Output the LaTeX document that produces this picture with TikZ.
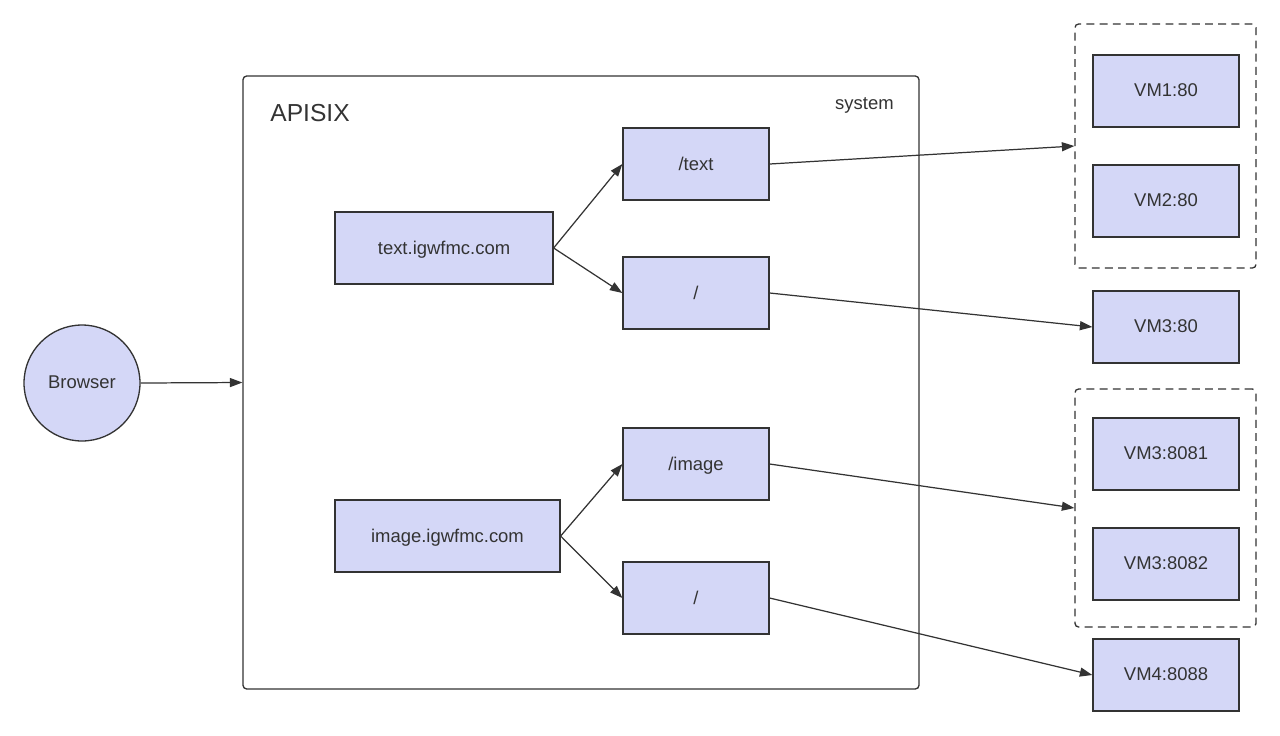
\documentclass[tikz,border=0pt]{standalone}
\usepackage{fontspec}
\setmainfont{Liberation Sans}
\usepackage{tikz}
\usetikzlibrary{arrows.meta, positioning}
\definecolor{boxfill}{RGB}{212,215,247}
\definecolor{inkgray}{RGB}{51,51,51}

\tikzset{
  box/.style={draw=inkgray, fill=boxfill, line width=0.75pt, minimum width=2.92cm,
    minimum height=1.44cm, inner sep=0pt, text=inkgray, text depth=0.1ex,
    font=\fontsize{10.5}{12}\selectfont},
  group/.style={draw=inkgray, dash pattern=on 4.5pt off 3pt, line width=0.75pt,
    rounded corners=2pt, minimum width=3.62cm, inner sep=0pt},
  link/.style={draw=inkgray, line width=0.7pt, -{Triangle[length=2.5mm, width=1.8mm]}}
}

\begin{document}
\begin{tikzpicture}[x=0.02cm, y=-0.02cm]
  \useasboundingbox (0,0) rectangle (1280,735);
  % outer system frame
  \node[draw=inkgray, line width=0.75pt, rounded corners=2pt, minimum width=13.52cm,
        minimum height=12.26cm, inner sep=0pt] (sys) at (581,382.5) {};
  \node[anchor=base west, inner sep=0pt, text=inkgray, font=\fontsize{14}{16}\selectfont] (apisix) at (270,121) {APISIX};
  \node[anchor=base east, inner sep=0pt, text=inkgray, font=\fontsize{10.5}{12}\selectfont] (syslabel) at (894,109) {system};

  \node[box, circle, minimum size=2.32cm] (browser) at (82,383) {Browser};

  % hosts
  \node[box, minimum width=4.36cm] (texthost) at (444,248) {text.igwfmc.com};
  \node[box, minimum width=4.5cm] (imagehost) at (447.5,536) {image.igwfmc.com};

  % routes
  \node[box] (textroute) at (696,164) {/text};
  \node[box] (textroot) at (696,293) {/};
  \node[box] (imageroute) at (696,464) {/image};
  \node[box] (imageroot) at (696,598) {/};

  % upstreams
  \node[group, minimum height=4.88cm] (upA) at (1165.5,146) {};
  \node[group, minimum height=4.76cm] (upB) at (1165.5,508) {};
  \node[box] (vmone) at (1166,91) {VM1:80};
  \node[box] (vmtwo) at (1166,201) {VM2:80};
  \node[box] (vmthree) at (1166,327) {VM3:80};
  \node[box] (vmeightone) at (1166,454) {VM3:8081};
  \node[box] (vmeighttwo) at (1166,564) {VM3:8082};
  \node[box] (vmfour) at (1166,675) {VM4:8088};

  \draw[link] (browser.east) -- (sys.west);
  \draw[link] (texthost.east) -- (textroute.west);
  \draw[link] (texthost.east) -- (textroot.west);
  \draw[link] (imagehost.east) -- (imageroute.west);
  \draw[link] (imagehost.east) -- (imageroot.west);
  \draw[link] (textroute.east) -- (upA.west);
  \draw[link] (textroot.east) -- (vmthree.west);
  \draw[link] (imageroute.east) -- (upB.west);
  \draw[link] (imageroot.east) -- (vmfour.west);
\end{tikzpicture}
\end{document}
